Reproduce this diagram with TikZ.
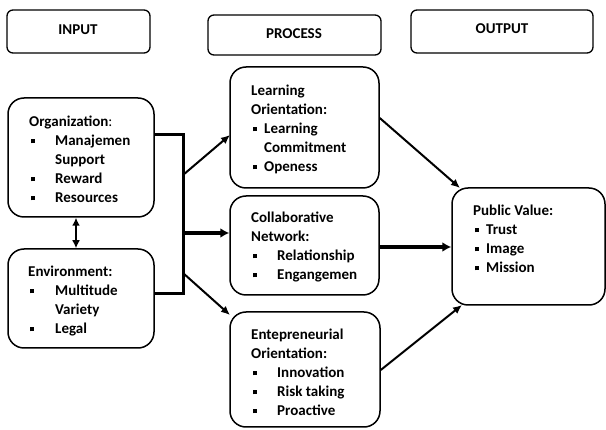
\documentclass[tikz,border=0pt]{standalone}
\usepackage{fontspec}
\setmainfont{Carlito}
\usetikzlibrary{arrows.meta,fit}
\newcommand{\itm}[2]{\makebox[#1][l]{\hspace{1.5pt}\rule[2.5pt]{4pt}{4pt}}#2}
\begin{document}
\begin{tikzpicture}[x=1pt,y=-1pt,
  hdr/.style={draw,line width=1.3pt,rounded corners=6pt,inner sep=0pt},
  box/.style={draw,line width=1.5pt,rounded corners=16pt,inner sep=0pt},
  txt/.style={anchor=base west,inner sep=0pt,font=\fontsize{15}{19}\selectfont\bfseries},
  arr/.style={line width=2pt,-{Latex[length=9pt,width=8pt]}},
  tarr/.style={line width=4pt,-{Latex[length=9pt,width=10pt]}},
  brk/.style={line width=3pt}]
\useasboundingbox (0,0) rectangle (606,430);
% header boxes
\node[hdr,fit={(7,10) (150,53)}] (hin) {};
\node[hdr,fit={(208,15) (381,55)}] (hpr) {};
\node[hdr,fit={(411,10) (593,53)}] (hout) {};
\node[font=\fontsize{15}{19}\selectfont\bfseries] (tin) at (78,30) {INPUT};
\node[font=\fontsize{15}{19}\selectfont\bfseries] (tpr) at (294,34) {PROCESS};
\node[font=\fontsize{15}{19}\selectfont\bfseries] (tout) at (502,29) {OUTPUT};
% content boxes
\node[box,fit={(8,98) (154,217)}] (org) {};
\node[box,fit={(8,249) (154,348)}] (env) {};
\node[box,fit={(230,67) (379,188)}] (learn) {};
\node[box,fit={(230,196) (379,295)}] (coll) {};
\node[box,fit={(230,312) (380,427)}] (entre) {};
\node[box,fit={(452,188) (605,305)}] (pub) {};
% texts
\foreach \t [count=\i from 0] in {Organization{\mdseries:},\itm{26pt}{Manajemen},\hspace{26pt}Support,\itm{26pt}{Reward},\itm{26pt}{Resources}}
  \node[txt] (org-\i) at (29,127+19*\i) {\t};
\foreach \t [count=\i from 0] in {Environment:,\itm{27pt}{Multitude},\hspace{27pt}Variety,\itm{27pt}{Legal}}
  \node[txt] (env-\i) at (28,277+19*\i) {\t};
\foreach \t [count=\i from 0] in {Learning,Orientation:,\itm{13pt}{Learning},\hspace{13pt}Commitment,\itm{13pt}{Openess}}
  \node[txt] (learn-\i) at (251,96+19*\i) {\t};
\foreach \t [count=\i from 0] in {Collaborative,Network:,\itm{26pt}{Relationship},\itm{26pt}{Engangemen}}
  \node[txt] (coll-\i) at (251,223+19*\i) {\t};
\foreach \t [count=\i from 0] in {Entepreneurial,Orientation:,\itm{26pt}{Innovation},\itm{26pt}{Risk taking},\itm{26pt}{Proactive}}
  \node[txt] (entre-\i) at (251,340+19*\i) {\t};
\foreach \t [count=\i from 0] in {Public Value:,\itm{13pt}{Trust},\itm{13pt}{Image},\itm{13pt}{Mission}}
  \node[txt] (pub-\i) at (473,216+19*\i) {\t};
% connectors
\coordinate (dx) at (76,0);
\draw[line width=2pt,{Latex[length=8pt,width=8pt]}-{Latex[length=8pt,width=8pt]}] (org.south -| dx) -- (env.north -| dx);
\coordinate (bx) at (183,0);
\coordinate (ya) at (0,135);
\coordinate (yb) at (0,294);
\draw[brk] (org.east |- ya) -- (bx |- ya) -- (bx |- yb) -- (env.east |- yb);
\coordinate (s1) at (183,175);
\coordinate (e1) at (230,135);
\coordinate (s2) at (183,233);
\coordinate (s3) at (183,273);
\coordinate (e3) at (230,315);
\draw[arr] (s1) -- (e1);
\draw[tarr] (s2) -- (coll.west |- s2);
\draw[arr] (s3) -- (e3);
\coordinate (l1) at (0,118);
\coordinate (p1) at (460,188);
\coordinate (m2) at (0,247);
\coordinate (l3) at (0,370);
\coordinate (p3) at (462,305);
\draw[arr] (learn.east |- l1) -- (p1);
\draw[tarr] (coll.east |- m2) -- (pub.west |- m2);
\draw[arr] (entre.east |- l3) -- (p3);
\end{tikzpicture}
\end{document}
